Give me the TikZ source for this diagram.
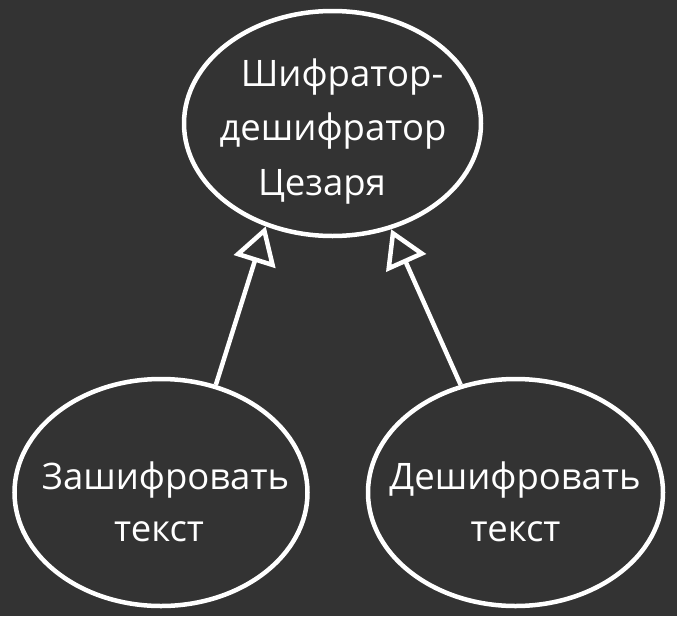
\documentclass[tikz,border=0pt]{standalone}
\usepackage{fontspec}
\setmainfont{Open Sans}
\usetikzlibrary{arrows.meta,shapes.geometric}
\definecolor{bgdark}{RGB}{51,51,51}
\begin{document}
\begin{tikzpicture}[x=1pt,y=-1pt,
  usecase/.style={draw=white,line width=4.5pt,ellipse,inner sep=0pt},
  txt/.style={text=white,inner sep=0pt,anchor=base,font=\fontsize{36.5}{44}\selectfont},
  gen/.style={draw=white,line width=4.5pt,-{Triangle[open,length=37pt,width=43pt,line width=4.5pt]}}]
\useasboundingbox (0,0) rectangle (677,616);
\fill[bgdark] (0,0) rectangle (677,616);
\node[usecase,minimum width=297pt,minimum height=225pt] (top) at (332.5,123.5) {};
\node[usecase,minimum width=293pt,minimum height=227pt] (enc) at (161,492.5) {};
\node[usecase,minimum width=295pt,minimum height=227pt] (dec) at (515.5,492.5) {};
\node[txt] (t1) at (342,86) {Шифратор-};
\node[txt] (t2) at (333,140) {дешифратор};
\node[txt] (t3) at (322,195) {Цезаря};
\node[txt] (e1) at (165.5,489) {Зашифровать};
\node[txt] (e2) at (159,541.5) {текст};
\node[txt] (d1) at (515,489) {Дешифровать};
\node[txt] (d2) at (515.5,541.5) {текст};
\draw[gen] (enc.63.7) -- (top.237.5);
\draw[gen] (dec.117.3) -- (top.299.8);
\end{tikzpicture}
\end{document}
